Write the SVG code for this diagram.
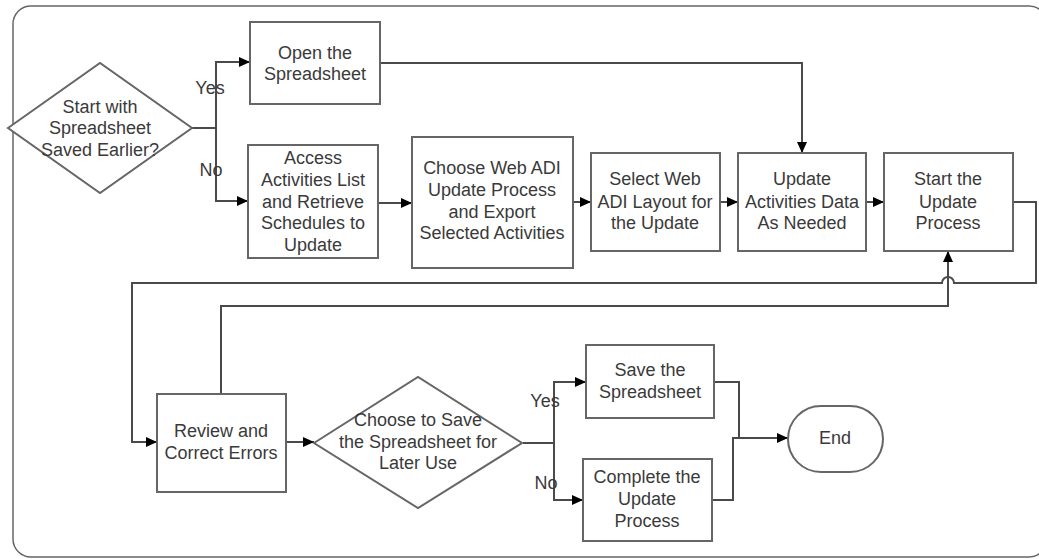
<svg xmlns="http://www.w3.org/2000/svg" width="1039" height="559" viewBox="0 0 1039 559">
<defs>
<style>
.frame{fill:#fff;stroke:#666;stroke-width:1.5}
.box{fill:#fff;stroke:#666;stroke-width:2}
.ln{fill:none;stroke:#4a4a4a;stroke-width:2}
text{font-family:"Liberation Sans",Arial,sans-serif;font-size:18px;fill:#3a3a3a;text-anchor:middle}
</style>
<marker id="ah" markerUnits="userSpaceOnUse" markerWidth="12" markerHeight="10" refX="11" refY="5" orient="auto">
<path d="M0,0 L11,5 L0,10 Z" fill="#000"/>
</marker>
</defs>
<rect class="frame" x="13" y="6" width="1034" height="551" rx="18" ry="18"/>
<g id="connectors">
<path class="ln" d="M192,128 H216 V62 H250" marker-end="url(#ah)"/>
<path class="ln" d="M216,128 V201 H248" marker-end="url(#ah)"/>
<path class="ln" d="M380,63 H802 V153" marker-end="url(#ah)"/>
<path class="ln" d="M378,203 H412" marker-end="url(#ah)"/>
<path class="ln" d="M573,202 H591" marker-end="url(#ah)"/>
<path class="ln" d="M720,202 H738" marker-end="url(#ah)"/>
<path class="ln" d="M866,202 H884" marker-end="url(#ah)"/>
<path class="ln" d="M1013,202 H1036 V283 H954 A6,6 0 0 0 942,283 H132 V442 H157" marker-end="url(#ah)"/>
<path class="ln" d="M221,394 V306 H948 V251" marker-end="url(#ah)"/>
<path class="ln" d="M286,442 H314" marker-end="url(#ah)"/>
<path class="ln" d="M523,443 H554 V382 H586" marker-end="url(#ah)"/>
<path class="ln" d="M554,443 V500 H583" marker-end="url(#ah)"/>
<path class="ln" d="M714,382 H739 V438"/>
<path class="ln" d="M712,500 H733 V438 H788" marker-end="url(#ah)"/>
<text x="210" y="94">Yes</text>
<text x="211" y="176">No</text>
<text x="545" y="407">Yes</text>
<text x="546" y="489">No</text>
</g>
<g id="start-decision">
<polygon class="box" points="8,128 100,63 192,128 100,193"/>
<text x="100" y="113">Start with</text>
<text x="100" y="134">Spreadsheet</text>
<text x="100" y="156">Saved Earlier?</text>
</g>
<g id="open-spreadsheet">
<rect class="box" x="250" y="22" width="130" height="82"/>
<text x="315" y="59">Open the</text>
<text x="315" y="80">Spreadsheet</text>
</g>
<g id="access-activities">
<rect class="box" x="248" y="145" width="130" height="113"/>
<text x="313" y="164">Access</text>
<text x="313" y="186">Activities List</text>
<text x="313" y="208">and Retrieve</text>
<text x="313" y="229">Schedules to</text>
<text x="313" y="251">Update</text>
</g>
<g id="choose-web-adi">
<rect class="box" x="412" y="137" width="161" height="131"/>
<text x="492" y="174">Choose Web ADI</text>
<text x="492" y="196">Update Process</text>
<text x="492" y="218">and Export</text>
<text x="492" y="239">Selected Activities</text>
</g>
<g id="select-layout">
<rect class="box" x="591" y="153" width="129" height="98"/>
<text x="655" y="185">Select Web</text>
<text x="655" y="208">ADI Layout for</text>
<text x="655" y="229">the Update</text>
</g>
<g id="update-activities">
<rect class="box" x="738" y="153" width="128" height="98"/>
<text x="802" y="185">Update</text>
<text x="802" y="208">Activities Data</text>
<text x="802" y="229">As Needed</text>
</g>
<g id="start-update">
<rect class="box" x="884" y="153" width="129" height="98"/>
<text x="948" y="185">Start the</text>
<text x="948" y="208">Update</text>
<text x="948" y="229">Process</text>
</g>
<g id="review-errors">
<rect class="box" x="157" y="394" width="129" height="98"/>
<text x="221" y="437">Review and</text>
<text x="221" y="459">Correct Errors</text>
</g>
<g id="save-decision">
<polygon class="box" points="314,443 418,377 522,443 418,508"/>
<text x="418" y="426">Choose to Save</text>
<text x="418" y="448">the Spreadsheet for</text>
<text x="418" y="469">Later Use</text>
</g>
<g id="save-spreadsheet">
<rect class="box" x="586" y="345" width="128" height="73"/>
<text x="650" y="376">Save the</text>
<text x="650" y="398">Spreadsheet</text>
</g>
<g id="complete-update">
<rect class="box" x="583" y="459" width="129" height="82"/>
<text x="647" y="483">Complete the</text>
<text x="647" y="505">Update</text>
<text x="647" y="527">Process</text>
</g>
<g id="end">
<rect class="box" x="788" y="406" width="95" height="66" rx="33" ry="33"/>
<text x="835" y="444">End</text>
</g>
</svg>
